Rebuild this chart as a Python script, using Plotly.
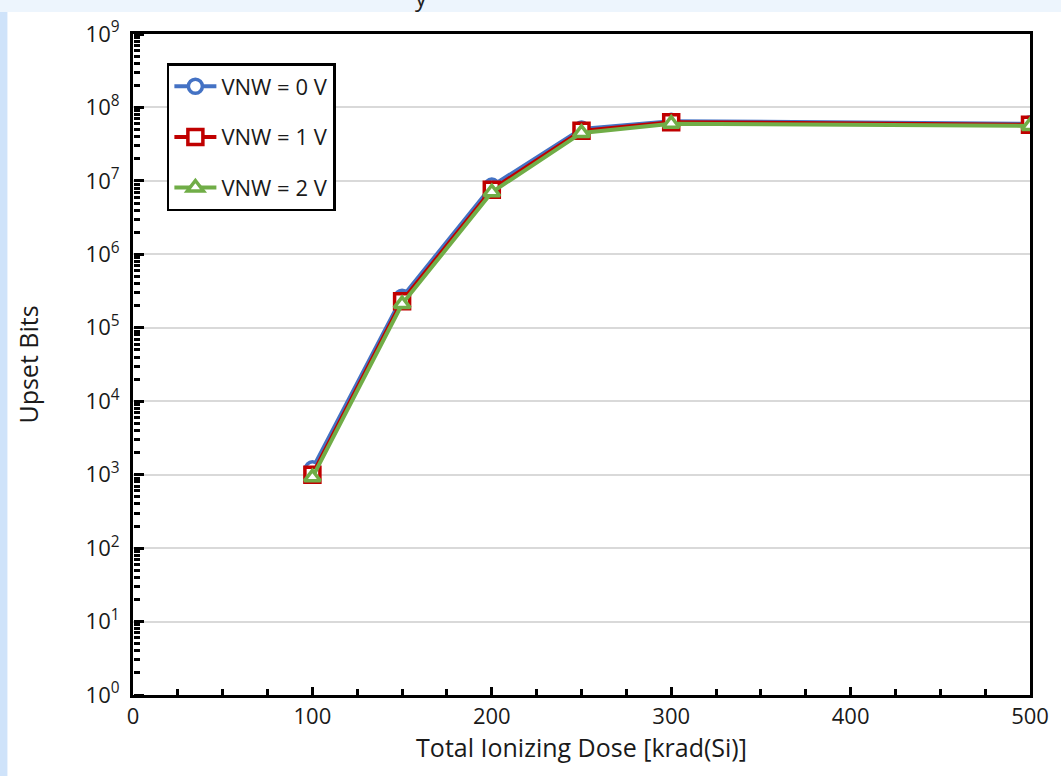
import plotly.graph_objects as go

dose = [100, 150, 200, 250, 300, 500]
vnw0 = [1200, 2.6e5, 8.5e6, 5.1e7, 6.5e7, 6.0e7]
vnw1 = [1000, 2.3e5, 7.6e6, 4.8e7, 6.3e7, 5.8e7]
vnw2 = [920, 2.1e5, 7.0e6, 4.5e7, 6.0e7, 5.6e7]
names = ["VNW = 0 V", "VNW = 1 V", "VNW = 2 V"]
y_exps = list(range(0, 10))
x_ticks = [0, 100, 200, 300, 400, 500]

W, H = 1061, 776
L, R, T, B = 133, 1033, 34, 695

major_vals = [10 ** e for e in y_exps]
major_text = ["10<sup>%d</sup>" % e for e in y_exps]
minor_vals = [k * 10 ** e for e in range(0, 9) for k in range(2, 10)]

fig = go.Figure()
styles = [
    ("#4472C4", "circle", 14),
    ("#C00000", "square", 15),
    ("#70AD47", "triangle-up", 14),
]

# transparent helper traces carrying the tick-only overlay axes
fig.add_trace(go.Scatter(x=dose, y=vnw1, yaxis="y2", mode="lines", opacity=0,
                         line=dict(width=0.1), showlegend=False, hoverinfo="skip"))
fig.add_trace(go.Scatter(x=dose, y=vnw1, yaxis="y3", mode="lines", opacity=0,
                         line=dict(width=0.1), showlegend=False, hoverinfo="skip"))

for name, ys, (col, sym, sz), grp in zip(names, [vnw0, vnw1, vnw2], styles, ["a", "b", "c"]):
    fig.add_trace(go.Scatter(
        x=dose, y=ys, name=name, mode="lines+markers", legendgroup=grp,
        line=dict(color=col, width=4),
        marker=dict(symbol=sym, size=sz, color="white", line=dict(color=col, width=3.5)),
    ))

def px2x(p):
    return (p - L) / (R - L)

def px2y(p):
    return (B - p) / (B - T)

# light-blue page edges (top strip and left strip), kept outside the plot area
fig.add_shape(type="rect", xref="paper", yref="paper",
              x0=px2x(-10), x1=px2x(1075), y0=px2y(12), y1=px2y(-10),
              fillcolor="#EDF5FD", line=dict(width=0), layer="below")
fig.add_shape(type="rect", xref="paper", yref="paper",
              x0=px2x(-10), x1=px2x(7), y0=px2y(790), y1=px2y(12),
              fillcolor="#CFE3FA", line=dict(width=0), layer="below")

fig.add_annotation(text="y", xref="paper", yref="paper", x=px2x(422), y=px2y(-4),
                   showarrow=False, font=dict(size=24, color="#222", family="Open Sans"),
                   xanchor="center", yanchor="middle")

fig.update_layout(
    width=W, height=H,
    margin=dict(l=L, r=W - R, t=T, b=H - B),
    paper_bgcolor="white",
    plot_bgcolor="white",
    font=dict(family="Open Sans", color="#1a1a1a", size=22),
    legend=dict(
        x=px2x(167), y=px2y(63), xanchor="left", yanchor="top",
        bgcolor="white", bordercolor="black", borderwidth=2.5,
        font=dict(size=22, color="#1a1a1a"), itemwidth=42, tracegroupgap=19,
    ),
    xaxis=dict(
        range=[0, 500], tickvals=x_ticks, ticks="inside", ticklen=8, tickwidth=2.5,
        tickcolor="black", showline=True, linecolor="black", linewidth=3, mirror=True,
        showgrid=False, zeroline=False,
        minor=dict(dtick=25, ticks="inside", ticklen=6, tickwidth=2.5, tickcolor="black", showgrid=False),
        title=dict(text="Total Ionizing Dose [krad(Si)]", font=dict(size=25), standoff=10),
        tickfont=dict(size=22),
    ),
    yaxis=dict(
        type="log", range=[0, 9], tickmode="array", tickvals=major_vals, ticktext=major_text,
        ticks="", showline=True, linecolor="black", linewidth=3, mirror=True,
        showgrid=True, gridcolor="#D9D9D9", gridwidth=1.5, zeroline=False,
        ticklabelstandoff=6,
        title=dict(text="Upset Bits", font=dict(size=25), standoff=40),
        tickfont=dict(size=22),
    ),
    # major tick marks: axis placed on the left edge, ticks pointing right into the plot
    yaxis2=dict(
        type="log", range=[0, 9], overlaying="y", side="right", anchor="free", position=0,
        tickmode="array", tickvals=major_vals, showticklabels=False,
        ticks="outside", ticklen=10, tickwidth=3, tickcolor="black",
        showgrid=False, showline=False, zeroline=False,
    ),
    # minor tick marks
    yaxis3=dict(
        type="log", range=[0, 9], overlaying="y", side="right", anchor="free", position=0,
        tickmode="array", tickvals=minor_vals, showticklabels=False,
        ticks="outside", ticklen=6, tickwidth=2.5, tickcolor="black",
        showgrid=False, showline=False, zeroline=False,
    ),
)

fig.write_html("out.html")
